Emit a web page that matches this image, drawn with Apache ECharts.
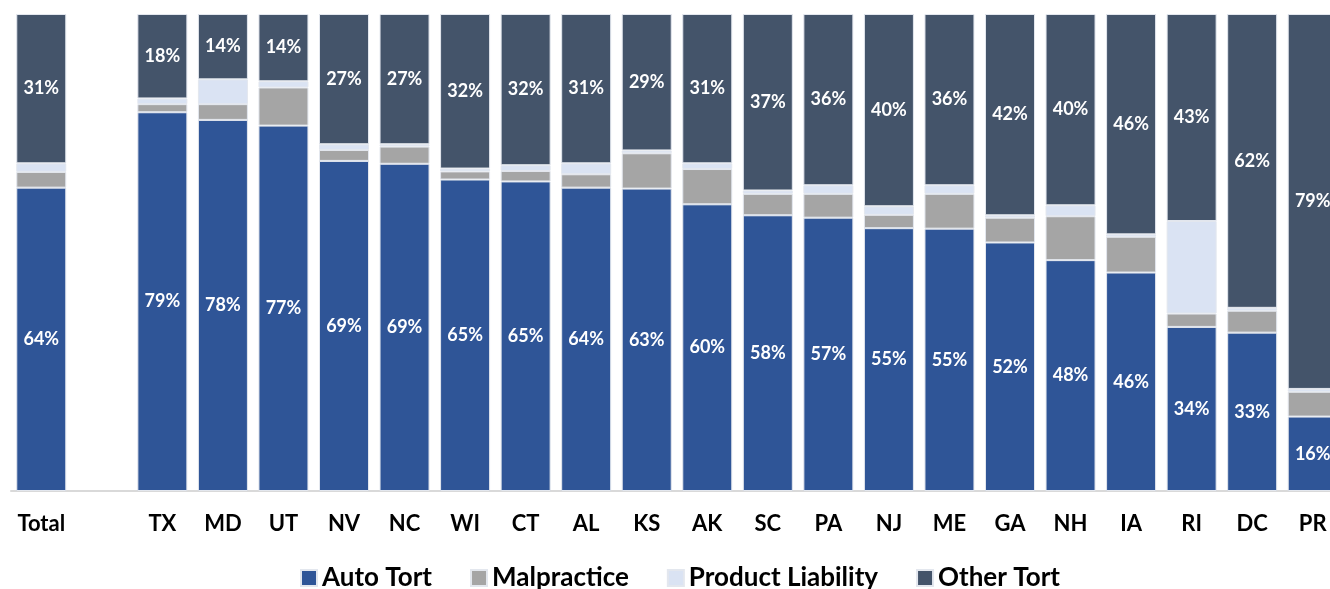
<!DOCTYPE html>
<html>
<head>
<meta charset="utf-8">
<script src="https://cdn.jsdelivr.net/npm/echarts@6/dist/echarts.min.js"></script>
<style>
  html, body { margin: 0; padding: 0; background: #ffffff; }
  #chart { width: 1330px; height: 589px; }
</style>
</head>
<body>
<div id="chart"></div>
<script>
// Share of tort filings by type, per state (percent of each column)
const categories = ['Total', '', 'TX', 'MD', 'UT', 'NV', 'NC', 'WI', 'CT', 'AL', 'KS', 'AK',
                    'SC', 'PA', 'NJ', 'ME', 'GA', 'NH', 'IA', 'RI', 'DC', 'PR'];

const autoTort =          [63.6, null, 79.4, 77.8, 76.6, 69.2, 68.6, 65.3, 64.9, 63.6, 63.4, 60.1,
                           57.8, 57.3, 55.1, 55.0, 52.1, 48.4, 45.8, 34.4, 33.2, 15.6];
const malpractice =       [3.3, null, 1.7, 3.3, 8.0, 2.3, 3.6, 1.7, 2.2, 2.8, 7.4, 7.4,
                           4.5, 5.0, 2.8, 7.3, 5.2, 9.2, 7.5, 2.8, 4.6, 5.2];
const productLiability =  [1.8, null, 1.2, 5.2, 1.3, 1.2, 0.5, 0.6, 1.2, 2.3, 0.6, 1.2,
                           0.7, 1.8, 1.8, 1.8, 0.5, 2.3, 0.5, 19.4, 0.6, 0.6];
const otherTort =         [31.3, null, 17.7, 13.7, 14.1, 27.3, 27.3, 32.4, 31.7, 31.3, 28.6, 31.3,
                           37.0, 35.9, 40.3, 35.9, 42.2, 40.1, 46.2, 43.4, 61.6, 78.6];

const FONT = 'Lato, "Noto Sans", sans-serif';

const pctLabel = {
  show: true,
  position: 'inside',
  color: '#ffffff',
  fontFamily: FONT,
  fontWeight: 'bold',
  fontSize: 18,
  formatter: p => (p.value == null ? '' : Math.round(p.value) + '%')
};

function stackSeries(name, data, color, withLabel) {
  return {
    name: name,
    type: 'bar',
    stack: 'share',
    barWidth: 50,
    data: data,
    itemStyle: { color: color, borderColor: '#e3e7ee', borderWidth: 1 },
    label: withLabel ? pctLabel : { show: false },
    emphasis: { disabled: true }
  };
}

const chart = echarts.init(document.getElementById('chart'), null, { renderer: 'canvas' });

chart.setOption({
  animation: false,
  backgroundColor: '#ffffff',
  // the last column (PR) runs slightly past the right edge of the canvas
  grid: {
    left: 11, top: 14, right: -13, height: 477,
    containLabel: false,
    outerBoundsMode: 'none'
  },
  xAxis: {
    type: 'category',
    data: categories,
    axisLine: { show: true, lineStyle: { color: '#d9d9d9', width: 2 } },
    axisTick: { show: false },
    axisLabel: {
      color: '#000000',
      fontFamily: FONT,
      fontWeight: 'bold',
      fontSize: 22,
      margin: 22,
      interval: 0
    }
  },
  yAxis: {
    type: 'value',
    min: 0,
    max: 100,
    show: false
  },
  legend: {
    left: 295,
    top: 560,
    itemWidth: 16,
    itemHeight: 16,
    itemGap: 38,
    icon: 'rect',
    textStyle: {
      color: '#000000',
      fontFamily: FONT,
      fontWeight: 'bold',
      fontSize: 26
    },
    data: ['Auto Tort', 'Malpractice', 'Product Liability', 'Other Tort']
  },
  series: [
    stackSeries('Auto Tort', autoTort, '#2f5597', true),
    stackSeries('Malpractice', malpractice, '#a5a5a5', false),
    stackSeries('Product Liability', productLiability, '#dae3f3', false),
    stackSeries('Other Tort', otherTort, '#44546a', true)
  ]
});
</script>
</body>
</html>
